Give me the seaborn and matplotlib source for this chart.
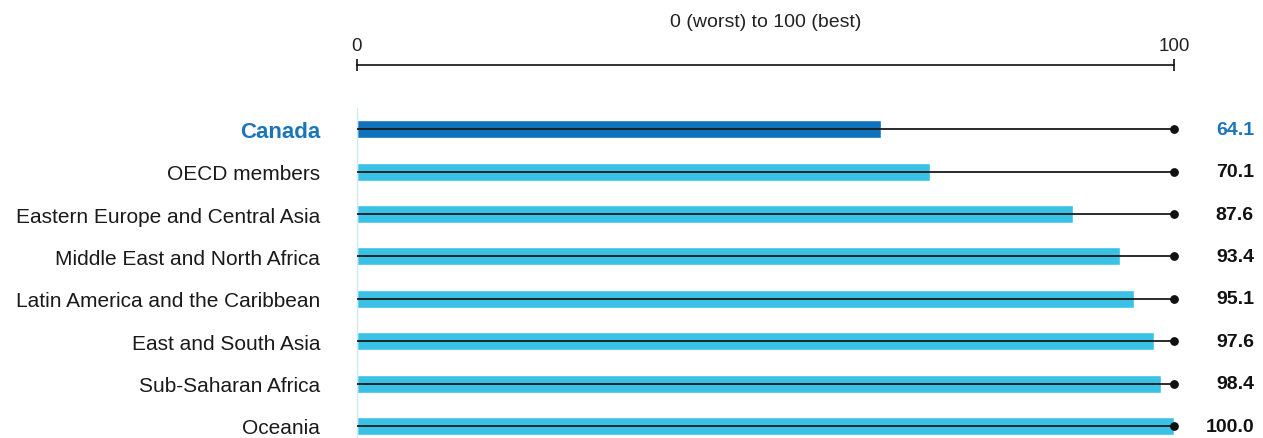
import matplotlib
matplotlib.use("Agg")
import matplotlib.pyplot as plt
import matplotlib.transforms as mtransforms
import seaborn as sns
import pandas as pd

categories = ["Canada", "OECD members", "Eastern Europe and Central Asia",
              "Middle East and North Africa", "Latin America and the Caribbean",
              "East and South Asia", "Sub-Saharan Africa", "Oceania"]
values = [64.1, 70.1, 87.6, 93.4, 95.1, 97.6, 98.4, 100.0]
value_labels = ["64.1", "70.1", "87.6", "93.4", "95.1", "97.6", "98.4", "100.0"]
highlight = "Canada"
scale_max = 100
scale_title = "0 (worst) to 100 (best)"

sns.set_theme(style="white")
plt.rcParams["font.family"] = ["Liberation Sans", "DejaVu Sans"]

df = pd.DataFrame({"cat": categories, "val": values})
df["grp"] = ["hi" if c == highlight else "other" for c in categories]
palette = {"hi": "#1072BA", "other": "#3AC2E6"}

W, H = 1263, 439
fig = plt.figure(figsize=(W / 100, H / 100), dpi=100)
x0, x1 = 357, 1174
ytop, ybot = 109, 439
ax = fig.add_axes([x0 / W, 1 - ybot / H, (x1 - x0) / W, (ybot - ytop) / H])

sns.barplot(data=df, x="val", y="cat", hue="grp", palette=palette, dodge=False,
            width=0.42, legend=False, ax=ax, orient="h", saturation=1)

ypos = list(range(len(categories)))
ax.hlines(ypos, 0, scale_max, color="#1a1a1a", lw=1.3, zorder=5)
ax.scatter([scale_max] * len(ypos), ypos, s=28, color="#111111", zorder=6, clip_on=False)

ax.set_xlim(0, scale_max)
ax.set_ylim(7 + (439 - 427) / 42.4, -0.5)

ax.set_ylabel("")
ax.set_xlabel(scale_title, fontsize=14, color="#222222", labelpad=8)
ax.xaxis.set_label_position("top")
ax.xaxis.tick_top()
ax.set_xticks([0, scale_max])
ax.set_xticklabels(["0", "100"])
ax.tick_params(axis="x", direction="inout", length=8, width=1.2, color="#111111",
               pad=4, labelsize=13.5, labelcolor="#222222")

for s in ["right", "bottom"]:
    ax.spines[s].set_visible(False)
ax.spines["top"].set_position(("outward", 43 * 0.72))
ax.spines["top"].set_color("#111111")
ax.spines["top"].set_linewidth(1.2)
ax.spines["left"].set_color("#cfeaf5")
ax.spines["left"].set_linewidth(1)

ax.set_yticks(ypos)
ax.set_yticklabels(categories, fontsize=15, color="#1a1a1a")
ax.tick_params(axis="y", length=0, pad=26.5)
for lbl in ax.get_yticklabels():
    if lbl.get_text() == highlight:
        lbl.set_color("#1a75bb")
        lbl.set_fontweight("bold")
        lbl.set_fontsize(16)

trans = mtransforms.blended_transform_factory(fig.transFigure, ax.transData)
for i, (c, t) in enumerate(zip(categories, value_labels)):
    ax.text(1254 / W, i, t, transform=trans, fontsize=14,
            fontweight="bold", ha="right", va="center",
            color="#1a75bb" if c == highlight else "#111111")

fig.savefig("out.png", dpi=100)
